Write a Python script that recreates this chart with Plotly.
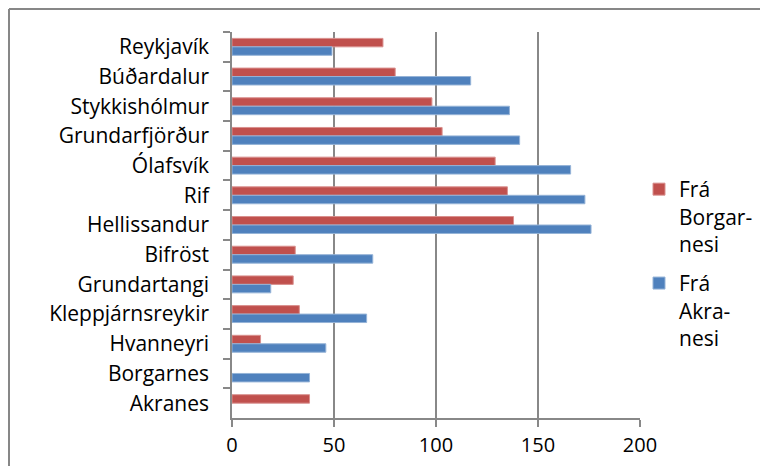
import plotly.graph_objects as go

# Places (top to bottom) and distances from each starting town
places = ["Reykjavík", "Búðardalur", "Stykkishólmur", "Grundarfjörður", "Ólafsvík",
          "Rif", "Hellissandur", "Bifröst", "Grundartangi", "Kleppjárnsreykir",
          "Hvanneyri", "Borgarnes", "Akranes"]
fra_borgarnesi = [74, 80, 98, 103, 129, 135, 138, 31, 30, 33, 14, None, 38]
fra_akranesi = [49, 117, 136, 141, 166, 173, 176, 69, 19, 66, 46, 38, None]
x_ticks = [0, 50, 100, 150, 200]

W, H = 760, 466
L, R, T, B = 232, 120, 32, 48
PW, PH = W - L - R, H - T - B

FONT = "Open Sans"
GRID = "#888888"

fig = go.Figure()
fig.add_trace(go.Bar(
    y=places, x=fra_borgarnesi, orientation="h", name="Frá<br>Borgar-<br>nesi",
    legendgroup="b", marker=dict(color="#C0504D", line=dict(color="#D9908E", width=1)),
))
fig.add_trace(go.Bar(
    y=places, x=fra_akranesi, orientation="h", name="Frá<br>Akra-<br>nesi",
    legendgroup="a", marker=dict(color="#4F81BD", line=dict(color="#95B3D7", width=1)),
))

def px_x(px):
    return (px - L) / PW

def px_y(py):
    return 1 - (py - T) / PH

# outer chart frame (top and left edges)
frame = dict(color="#878787", width=2)
fig.add_shape(type="line", xref="paper", yref="paper",
              x0=px_x(9), x1=px_x(W + 5), y0=px_y(9), y1=px_y(9), line=frame)
fig.add_shape(type="line", xref="paper", yref="paper",
              x0=px_x(9), x1=px_x(9), y0=px_y(9), y1=px_y(H + 5), line=frame)

fig.update_layout(
    width=W, height=H,
    margin=dict(l=L, r=R, t=T, b=B, pad=0, autoexpand=False),
    paper_bgcolor="white", plot_bgcolor="white",
    barmode="group", bargap=0.43, bargroupgap=0,
    font=dict(family=FONT, size=20, color="#000000"),
    legend=dict(
        x=px_x(639), y=px_y(169), xanchor="left", yanchor="top",
        valign="top", tracegroupgap=9, traceorder="grouped",
        font=dict(family=FONT, size=21, color="#000000"),
        bgcolor="rgba(0,0,0,0)",
    ),
    xaxis=dict(
        range=[0, 200], tickvals=x_ticks, ticktext=[str(v) for v in x_ticks],
        showgrid=True, gridcolor=GRID, gridwidth=1.5,
        showline=True, linecolor=GRID, linewidth=1.5,
        ticks="outside", ticklen=7, tickcolor=GRID, tickwidth=1.5,
        zeroline=False, tickfont=dict(family=FONT, size=20),
        ticklabelstandoff=1, automargin=False,
    ),
    yaxis=dict(
        autorange="reversed", type="category",
        showline=True, linecolor=GRID, linewidth=1.5,
        ticks="outside", ticklen=7, tickcolor=GRID, tickwidth=1.5,
        tickson="boundaries", showgrid=False, zeroline=False,
        tickfont=dict(family=FONT, size=21),
        ticklabelstandoff=17, automargin=False,
    ),
)

fig.write_html("out.html")
